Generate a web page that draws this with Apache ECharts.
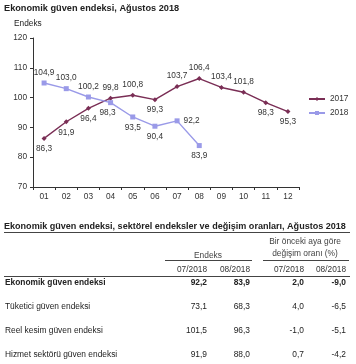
<!DOCTYPE html>
<html><head><meta charset="utf-8">
<script src="https://cdn.jsdelivr.net/npm/echarts@6/dist/echarts.min.js"></script>
<style>html,body{margin:0;padding:0;background:#fff}#c{width:356px;height:364px}</style>
</head><body><div id="c"></div>
<script>
const months = ['01','02','03','04','05','06','07','08','09','10','11','12'];
const v2017 = [86.3, 91.9, 96.4, 99.8, 100.8, 99.3, 103.7, 106.4, 103.4, 101.8, 98.3, 95.3];
const v2018 = [104.9, 103.0, 100.2, 98.3, 93.5, 90.4, 92.2, 83.9];
const pos2017 = ['bottom','bottom','bottom','top','top','bottom','top','top','top','top','bottom','bottom'];
const pos2018 = ['top','top','top','bottom','bottom','bottom','right','bottom'];
const yTicks = [70, 80, 90, 100, 110, 120];

const tableTitle = 'Ekonomik güven endeksi, sektörel endeksler ve değişim oranları, Ağustos 2018';
const rowNames = ['Ekonomik güven endeksi', 'Tüketici güven endeksi', 'Reel kesim güven endeksi', 'Hizmet sektörü güven endeksi'];
const idx0718 = [92.2, 73.1, 101.5, 91.9];
const idx0818 = [83.9, 68.3, 96.3, 88.0];
const chg0718 = [2.0, 4.0, -1.0, 0.7];
const chg0818 = [-9.0, -6.5, -5.1, -4.2];
const colHeads = ['07/2018', '08/2018', '07/2018', '08/2018'];

const FONT = '"Liberation Sans", Arial, sans-serif';
const fmt = v => v.toFixed(1).replace('.', ',');
const c17 = '#7a2e55', c18 = '#9a9ae8';

const graphics = [];
function txt(x, y, s, opt) {
  graphics.push({type:'text', x, y, style:Object.assign({text:s, font:'8px ' + FONT, fill:'#222', textAlign:'left', textVerticalAlign:'middle'}, opt||{})});
}
function line(x1, y1, x2, y2, w) {
  graphics.push({type:'line', shape:{x1, y1, x2, y2}, style:{stroke:'#444', lineWidth:w||1}});
}
txt(4, 8, 'Ekonomik güven endeksi, Ağustos 2018', {font:'bold 9.2px ' + FONT});
txt(14, 24, 'Endeks', {font:'8.3px ' + FONT});
// table
txt(4, 227, tableTitle, {font:'bold 9.05px ' + FONT});
line(4, 232.5, 350, 232.5, 1.2);
txt(305, 242, 'Bir önceki aya göre', {textAlign:'center', font:'8.4px ' + FONT, fill:'#444'});
txt(305, 254, 'değişim oranı (%)', {textAlign:'center', font:'8.4px ' + FONT, fill:'#444'});
txt(208, 255.5, 'Endeks', {textAlign:'center', font:'8.4px ' + FONT, fill:'#444'});
line(165, 260.5, 252, 260.5, 1);
line(263, 260.5, 349, 260.5, 1);
const colX = [207, 250, 304, 346];
colHeads.forEach((h, i) => txt(colX[i], 270, h, {textAlign:'right', font:'8.3px ' + FONT, fill:'#333'}));
line(4, 276.5, 350, 276.5, 1);
const rowY = [283, 307, 331, 354.5];
rowNames.forEach((n, i) => {
  const b = i === 0 ? 'bold ' : '';
  txt(5, rowY[i], n, {font:b + '8.4px ' + FONT});
  [idx0718[i], idx0818[i], chg0718[i], chg0818[i]].forEach((v, j) =>
    txt(colX[j], rowY[i], fmt(v), {textAlign:'right', font:b + '8.4px ' + FONT}));
});

const chart = echarts.init(document.getElementById('c'));
chart.setOption({
  animation:false,
  textStyle:{fontFamily:FONT},
  grid:{left:33, right:57, top:38, bottom:177, containLabel:false},
  legend:{
    orient:'vertical', left:303, top:90, itemWidth:16, itemHeight:5, itemGap:6,
    textStyle:{fontSize:8.3, color:'#333', fontFamily:FONT},
    data:['2017','2018']
  },
  xAxis:{
    type:'category', data:months, boundaryGap:true,
    axisLine:{lineStyle:{color:'#333', width:1}},
    axisTick:{show:true, alignWithLabel:false, length:3, lineStyle:{color:'#333'}},
    axisLabel:{fontSize:8.3, color:'#333', margin:6, fontFamily:FONT}
  },
  yAxis:{
    type:'value', min:yTicks[0], max:yTicks[yTicks.length-1], interval:10,
    axisLine:{show:true, lineStyle:{color:'#333', width:1}},
    axisTick:{show:true, length:3, lineStyle:{color:'#333'}},
    splitLine:{show:false},
    axisLabel:{fontSize:8.3, color:'#333', margin:6, fontFamily:FONT}
  },
  series:[
    {name:'2017', type:'line', data:v2017.map((v,i)=>({value:v, label:{position:pos2017[i]}})),
     symbol:'diamond', symbolSize:5, lineStyle:{color:c17, width:1.4}, itemStyle:{color:c17},
     label:{show:true, formatter:p=>fmt(p.value), fontSize:8.3, color:'#333', distance:4}},
    {name:'2018', type:'line', data:v2018.map((v,i)=>({value:v, label:{position:pos2018[i], offset: i===3?[-3,0]:[0,0]}})),
     symbol:'rect', symbolSize:5, lineStyle:{color:c18, width:1.4}, itemStyle:{color:c18},
     label:{show:true, formatter:p=>fmt(p.value), fontSize:8.3, color:'#333', distance:4}}
  ],
  graphic:graphics
});
</script></body></html>
